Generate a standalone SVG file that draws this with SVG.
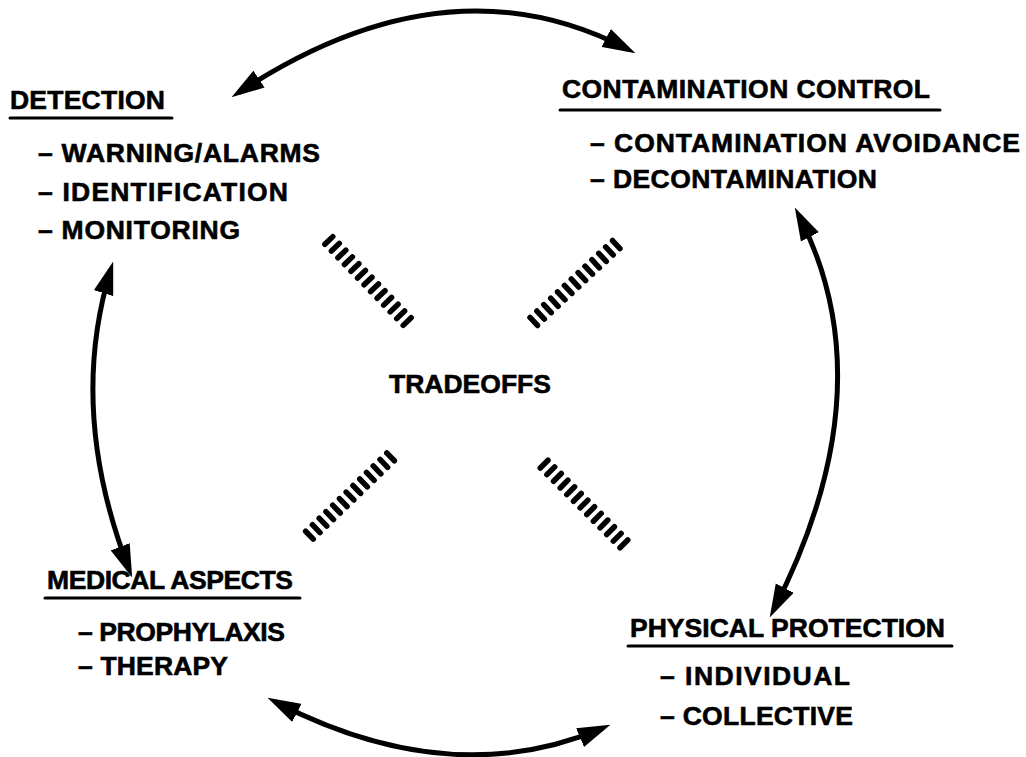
<svg xmlns="http://www.w3.org/2000/svg" xmlns:xlink="http://www.w3.org/1999/xlink" width="1026" height="757" viewBox="0 0 1026 757">
<style>
  text { font-family: "Liberation Sans", Arial, sans-serif; font-weight: bold; font-size: 26.5px; fill: #000; stroke: #000; stroke-width: 0.6; }
  .ul { stroke: #000; stroke-width: 3; stroke-linecap: round; }
  .arc { fill: none; stroke: #000; stroke-width: 5; marker-start: url(#ah); marker-end: url(#ah); }
  .tick { stroke: #000; stroke-width: 5.5; stroke-linecap: round; }
</style>
<defs>
  <marker id="ah" markerUnits="userSpaceOnUse" markerWidth="33" markerHeight="21" viewBox="0 0 31 19" refX="23" refY="9.5" orient="auto-start-reverse">
    <path d="M0,0 L31,9.5 L0,19 Z" fill="#000"/>
  </marker>
  <g id="hatch">
    <line class="tick" x1="-56.4" y1="-5.5" x2="-56.4" y2="5.5"/>
    <line class="tick" x1="-47" y1="-5.5" x2="-47" y2="5.5"/>
    <line class="tick" x1="-37.6" y1="-5.5" x2="-37.6" y2="5.5"/>
    <line class="tick" x1="-28.2" y1="-5.5" x2="-28.2" y2="5.5"/>
    <line class="tick" x1="-18.8" y1="-5.5" x2="-18.8" y2="5.5"/>
    <line class="tick" x1="-9.4" y1="-5.5" x2="-9.4" y2="5.5"/>
    <line class="tick" x1="0" y1="-5.5" x2="0" y2="5.5"/>
    <line class="tick" x1="9.4" y1="-5.5" x2="9.4" y2="5.5"/>
    <line class="tick" x1="18.8" y1="-5.5" x2="18.8" y2="5.5"/>
    <line class="tick" x1="28.2" y1="-5.5" x2="28.2" y2="5.5"/>
    <line class="tick" x1="37.6" y1="-5.5" x2="37.6" y2="5.5"/>
    <line class="tick" x1="47" y1="-5.5" x2="47" y2="5.5"/>
    <line class="tick" x1="56.4" y1="-5.5" x2="56.4" y2="5.5"/>
  </g>
</defs>
<rect width="1026" height="757" fill="#fff"/>

<g id="connectors">
  <path class="arc" d="M238.6,92.6 Q446.5,-45 627.9,49.3"/>
  <path class="arc" d="M798.7,215.1 Q887.5,387.5 773.6,609.9"/>
  <path class="arc" d="M602.6,728.1 Q451,792.5 275.1,701.7"/>
  <path class="arc" d="M129.1,569.6 Q67.5,410.5 110.7,269.7"/>
</g>

<g id="tradeoff-hatches">
  <use xlink:href="#hatch" href="#hatch" transform="translate(368,281) rotate(46)"/>
  <use xlink:href="#hatch" href="#hatch" transform="translate(575,283) rotate(-43)"/>
  <use xlink:href="#hatch" href="#hatch" transform="translate(350,496) rotate(-44)"/>
  <use xlink:href="#hatch" href="#hatch" transform="translate(584,504) rotate(45)"/>
</g>

<g id="tradeoffs">
  <text x="389" y="393" textLength="162">TRADEOFFS</text>
</g>

<g id="detection">
  <text x="10" y="109" textLength="155">DETECTION</text>
  <line class="ul" x1="10" y1="118" x2="172" y2="118"/>
  <text x="38" y="162" textLength="282">– WARNING/ALARMS</text>
  <text x="38" y="201" textLength="250">– IDENTIFICATION</text>
  <text x="38" y="239" textLength="202">– MONITORING</text>
</g>

<g id="contamination-control">
  <text x="562" y="98" textLength="368">CONTAMINATION CONTROL</text>
  <line class="ul" x1="560" y1="110" x2="940" y2="110"/>
  <text x="590" y="152" textLength="430">– CONTAMINATION AVOIDANCE</text>
  <text x="590" y="188" textLength="287">– DECONTAMINATION</text>
</g>

<g id="medical-aspects">
  <text x="47" y="589" textLength="246">MEDICAL ASPECTS</text>
  <line class="ul" x1="45" y1="598" x2="300" y2="598"/>
  <text x="78" y="641" textLength="207">– PROPHYLAXIS</text>
  <text x="78" y="675" textLength="150">– THERAPY</text>
</g>

<g id="physical-protection">
  <text x="630" y="637" textLength="315">PHYSICAL PROTECTION</text>
  <line class="ul" x1="628" y1="646" x2="952" y2="646"/>
  <text x="660" y="685" textLength="190">– INDIVIDUAL</text>
  <text x="660" y="725" textLength="193">– COLLECTIVE</text>
</g>
</svg>
